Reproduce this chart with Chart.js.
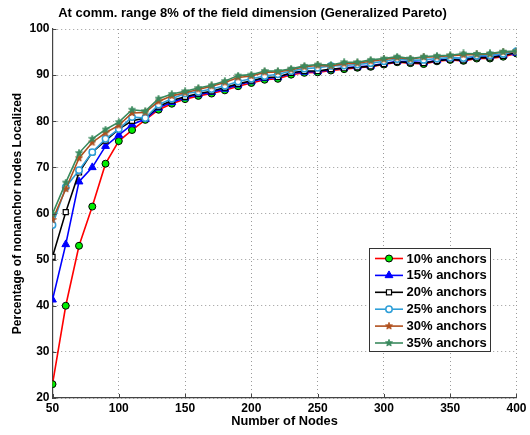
<!DOCTYPE html>
<html>
<head>
<meta charset="utf-8">
<script src="https://cdn.jsdelivr.net/npm/chart.js@4.4.1/dist/chart.umd.min.js"></script>
<style>
  html, body { margin: 0; padding: 0; background: #ffffff; }
  #wrap { width: 530px; height: 435px; position: relative; }
</style>
</head>
<body>
<div id="wrap"><canvas id="c" width="530" height="435"></canvas></div>
<script>
// ---------------- DATA ----------------
const chartTitle = "At comm. range 8% of the field dimension (Generalized Pareto)";
const xAxisTitle = "Number of Nodes";
const yAxisTitle = "Percentage of nonanchor nodes Localized";

const nodes = [50,60,70,80,90,100,110,120,130,140,150,160,170,180,190,200,210,220,230,240,250,260,270,280,290,300,310,320,330,340,350,360,370,380,390,400];

const seriesLabels = ["10% anchors","15% anchors","20% anchors","25% anchors","30% anchors","35% anchors"];

const anchors10 = [23,40,53,61.5,70.8,75.7,78.1,80.3,82.5,83.8,84.8,85.5,86.0,86.7,87.6,88.3,89.0,89.2,90.1,90.5,90.6,91.0,91.3,91.6,91.8,92.3,92.8,92.6,92.4,93.0,93.3,93.1,93.6,93.6,94.0,94.7];
const anchors15 = [41.3,53.3,66.9,70,74.6,77,79.3,80.5,82.9,84.1,85.1,85.8,86.3,87.0,87.9,88.6,89.3,89.5,90.4,90.7,90.8,91.2,91.6,91.8,92.0,92.5,93.0,92.9,92.7,93.2,93.5,93.4,93.9,94.0,94.3,94.8];
const anchors20 = [50.6,60.3,68.9,73.3,75.8,78.3,80.1,80.7,83.2,84.5,85.3,86.0,86.5,87.3,88.1,88.8,89.5,89.6,90.5,90.9,90.9,91.3,91.5,91.7,91.9,92.4,92.9,92.7,92.6,93.1,93.4,93.2,93.8,93.8,94.2,95.0];
const anchors25 = [57.5,65.7,69.4,73.3,76.2,78.3,80.9,80.7,83.6,84.9,86.0,86.4,87.0,87.7,88.6,89.2,89.8,90.2,90.9,91.4,91.6,92.0,92.1,92.3,92.6,93.0,93.5,93.2,93.3,93.6,93.8,93.7,94.2,94.3,94.6,95.2];
const anchors30 = [58.6,65.3,72,75.4,77.5,79.1,81.8,81.9,84.3,85.5,86.2,86.9,87.6,88.4,89.5,89.8,90.6,90.7,91.2,91.8,92.1,92.0,92.5,92.6,93.0,93.4,93.8,93.5,93.9,94.0,94.2,94.4,94.5,94.6,95.0,95.1];
const anchors35 = [59.9,66.7,73.1,76.2,78.2,79.8,82.5,82.2,84.9,85.9,86.5,87.2,87.8,88.7,89.9,90.1,90.9,90.9,91.4,92.0,92.3,92.2,92.8,92.8,93.3,93.6,94.0,93.6,94.0,94.2,94.3,94.7,94.6,94.7,95.1,95.2];

const xTickValues = [50,100,150,200,250,300,350,400];
const yTickValues = [20,30,40,50,60,70,80,90,100];

// ---------------- STYLES ----------------
function makeStar(color, size) {
  const c = document.createElement('canvas');
  c.width = size; c.height = size;
  const g = c.getContext('2d');
  const cx = size/2, cy = size/2, R = size/2 - 0.3, r = R*0.45;
  g.beginPath();
  for (let k = 0; k < 10; k++) {
    const ang = -Math.PI/2 + k*Math.PI/5;
    const rad = (k % 2 === 0) ? R : r;
    const px = cx + rad*Math.cos(ang), py = cy + rad*Math.sin(ang);
    if (k === 0) g.moveTo(px, py); else g.lineTo(px, py);
  }
  g.closePath();
  g.fillStyle = color; g.fill();
  g.strokeStyle = color; g.lineWidth = 0.8; g.stroke();
  return c;
}

const brownC = '#b0501e';
const greenC = '#3a8a5e';
const cyanC = '#2f9fd8';

const styles = [
  { line: '#ff0000', pointStyle: 'circle', radius: 3.5, fill: '#00ee00', border: '#000000', bw: 1 },
  { line: '#0000ff', pointStyle: 'triangle', radius: 4.5, fill: '#0000ff', border: '#0000ff', bw: 1 },
  { line: '#000000', pointStyle: 'rect', radius: 3.6, fill: '#ffffff', border: '#000000', bw: 1.2 },
  { line: cyanC, pointStyle: 'circle', radius: 3.2, fill: '#ffffff', border: cyanC, bw: 1.5 },
  { line: brownC, pointStyle: makeStar(brownC, 8), radius: 4, fill: brownC, border: brownC, bw: 1 },
  { line: greenC, pointStyle: makeStar(greenC, 8), radius: 4, fill: greenC, border: greenC, bw: 1 }
];

const allSeries = [anchors10, anchors15, anchors20, anchors25, anchors30, anchors35];

const datasets = allSeries.map((vals, i) => ({
  label: seriesLabels[i],
  data: vals.map((v, j) => ({ x: nodes[j], y: v })),
  borderColor: styles[i].line,
  backgroundColor: styles[i].fill,
  borderWidth: 1.6,
  pointStyle: styles[i].pointStyle,
  pointRadius: styles[i].radius,
  pointHoverRadius: styles[i].radius,
  pointBackgroundColor: styles[i].fill,
  pointBorderColor: styles[i].border,
  pointBorderWidth: styles[i].bw,
  tension: 0,
  fill: false,
  order: 5 - i
}));

const boldFont = (size) => ({ family: "'Liberation Sans', Arial, sans-serif", size: size, weight: 'bold' });

// ---------------- PLUGINS ----------------
const titlePlugin = {
  id: 'customTitle',
  afterDraw(chart) {
    const ctx = chart.ctx;
    ctx.save();
    ctx.font = "bold 13px 'Liberation Sans', Arial, sans-serif";
    ctx.fillStyle = '#000';
    ctx.textAlign = 'center';
    ctx.textBaseline = 'middle';
    ctx.fillText(chartTitle, 252.5, 13.5);
    ctx.restore();
  }
};

const innerTicksPlugin = {
  id: 'innerTicks',
  afterDraw(chart) {
    const ctx = chart.ctx;
    const xs = chart.scales.x, ys = chart.scales.y;
    const a = chart.chartArea;
    ctx.save();
    ctx.strokeStyle = '#444';
    ctx.lineWidth = 1;
    ctx.beginPath();
    xTickValues.forEach(v => {
      const px = Math.round(xs.getPixelForValue(v)) + 0.5;
      ctx.moveTo(px, a.bottom); ctx.lineTo(px, a.bottom - 4);
    });
    yTickValues.forEach(v => {
      const py = Math.round(ys.getPixelForValue(v)) + 0.5;
      ctx.moveTo(a.left, py); ctx.lineTo(a.left + 4, py);
    });
    ctx.stroke();
    ctx.restore();
  }
};

const legendPlugin = {
  id: 'boxLegend',
  afterDraw(chart) {
    const ctx = chart.ctx;
    const bx = 369.5, by = 248.5, bw = 121, bh = 103;
    ctx.save();
    ctx.fillStyle = '#ffffff';
    ctx.fillRect(bx, by, bw, bh);
    ctx.strokeStyle = '#333';
    ctx.lineWidth = 1;
    ctx.strokeRect(bx, by, bw, bh);
    ctx.font = "bold 13px 'Liberation Sans', Arial, sans-serif";
    ctx.textBaseline = 'middle';
    ctx.textAlign = 'left';
    chart.data.datasets.forEach((ds, i) => {
      const y = 258.5 + i * 16.9;
      ctx.strokeStyle = ds.borderColor;
      ctx.lineWidth = 1.6;
      ctx.beginPath();
      ctx.moveTo(375, y); ctx.lineTo(403, y);
      ctx.stroke();
      ctx.fillStyle = ds.pointBackgroundColor;
      ctx.strokeStyle = ds.pointBorderColor;
      ctx.lineWidth = ds.pointBorderWidth;
      const opts = { pointStyle: ds.pointStyle, radius: ds.pointRadius, borderWidth: ds.pointBorderWidth, rotation: 0 };
      Chart.helpers.drawPoint(ctx, opts, 389, y);
      ctx.fillStyle = '#000';
      ctx.fillText(ds.label, 406.5, y + 0.5);
    });
    ctx.restore();
  }
};

// ---------------- CHART ----------------
new Chart(document.getElementById('c'), {
  type: 'line',
  data: { datasets: datasets },
  plugins: [titlePlugin, innerTicksPlugin, legendPlugin],
  options: {
    responsive: false,
    animation: false,
    devicePixelRatio: 1,
    layout: { padding: { top: 29, right: 8.5, left: 0, bottom: 0 } },
    plugins: {
      legend: { display: false },
      title: { display: false },
      tooltip: { enabled: false }
    },
    scales: {
      x: {
        type: 'linear',
        min: 50, max: 400,
        afterBuildTicks(scale) { scale.ticks = xTickValues.map(v => ({ value: v })); },
        afterFit(scale) { scale.height = 37; },
        ticks: { font: boldFont(12), color: '#000', padding: 3.5, maxRotation: 0, autoSkip: false },
        grid: { color: '#9a9a9a', lineWidth: 1, drawTicks: false },
        border: { display: true, color: '#444', width: 1.2, dash: [1, 3] },
        title: { display: true, text: xAxisTitle, font: boldFont(12.8), color: '#000', padding: { top: 0, bottom: 5.5 } }
      },
      y: {
        type: 'linear',
        min: 20, max: 100,
        afterBuildTicks(scale) { scale.ticks = yTickValues.map(v => ({ value: v })); },
        afterFit(scale) { scale.width = 52.5; },
        ticks: { font: boldFont(12), color: '#000', padding: 3, autoSkip: false },
        grid: { color: '#9a9a9a', lineWidth: 1, drawTicks: false },
        border: { display: true, color: '#444', width: 1.2, dash: [1, 3] },
        title: { display: true, text: yAxisTitle, font: boldFont(12), color: '#000', padding: { top: 10.5, bottom: 0 } }
      }
    }
  }
});
</script>
</body>
</html>
